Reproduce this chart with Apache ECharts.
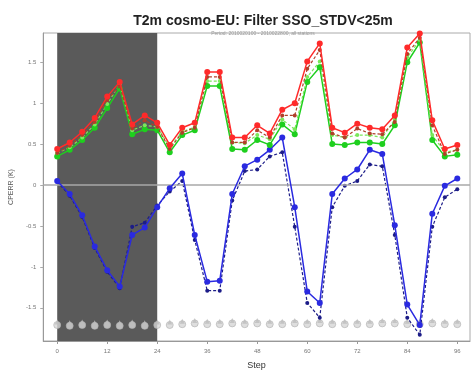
<!DOCTYPE html>
<html>
<head>
<meta charset="utf-8">
<script src="https://cdn.jsdelivr.net/npm/echarts@6/dist/echarts.min.js"></script>
<style>html,body{margin:0;padding:0;background:#fff}#c{width:471px;height:375px}</style>
</head>
<body>
<div id="c"></div>
<script>
var steps = [0,3,6,9,12,15,18,21,24,27,30,33,36,39,42,45,48,51,54,57,60,63,66,69,72,75,78,81,84,87,90,93,96];
var redVals = [0.44,0.52,0.65,0.82,1.08,1.26,0.74,0.85,0.76,0.49,0.70,0.76,1.38,1.38,0.58,0.58,0.73,0.63,0.92,1.00,1.51,1.73,0.70,0.64,0.75,0.70,0.68,0.85,1.68,1.85,0.79,0.44,0.49];
var brownVals = [0.39,0.48,0.61,0.77,1.04,1.21,0.69,0.79,0.71,0.44,0.64,0.70,1.32,1.32,0.52,0.52,0.67,0.58,0.85,0.85,1.42,1.65,0.63,0.58,0.69,0.63,0.62,0.77,1.60,1.80,0.73,0.38,0.43];
var lightGreenVals = [0.39,0.46,0.58,0.74,0.99,1.23,0.67,0.73,0.71,0.46,0.65,0.71,1.27,1.27,0.52,0.51,0.61,0.56,0.80,0.68,1.32,1.51,0.61,0.58,0.61,0.61,0.58,0.80,1.56,1.77,0.61,0.40,0.43];
var greenVals = [0.35,0.43,0.55,0.70,0.94,1.18,0.62,0.68,0.67,0.40,0.61,0.67,1.21,1.21,0.44,0.43,0.55,0.49,0.74,0.62,1.26,1.44,0.50,0.49,0.52,0.52,0.50,0.73,1.50,1.74,0.55,0.35,0.37];
var blueVals = [0.05,-0.11,-0.37,-0.75,-1.04,-1.24,-0.61,-0.52,-0.27,-0.04,0.14,-0.61,-1.18,-1.17,-0.11,0.23,0.31,0.43,0.58,-0.27,-1.30,-1.44,-0.11,0.08,0.19,0.43,0.38,-0.49,-1.46,-1.71,-0.35,-0.01,0.08];
var navyVals = [0.04,-0.13,-0.39,-0.77,-1.06,-1.26,-0.51,-0.46,-0.25,-0.08,0.05,-0.67,-1.29,-1.29,-0.19,0.17,0.19,0.35,0.40,-0.51,-1.44,-1.62,-0.27,-0.01,0.05,0.25,0.23,-0.61,-1.62,-1.83,-0.51,-0.15,-0.05];
var grayVals = [-1.71,-1.72,-1.71,-1.72,-1.71,-1.72,-1.71,-1.72,-1.71,-1.71,-1.70,-1.69,-1.70,-1.70,-1.69,-1.70,-1.69,-1.70,-1.70,-1.69,-1.70,-1.69,-1.70,-1.70,-1.70,-1.70,-1.69,-1.69,-1.70,-1.70,-1.69,-1.70,-1.70];
var xTicks = [0,12,24,36,48,60,72,84,96];
var yTicks = [-1.5,-1,-0.5,0,0.5,1,1.5];
var shadeFrom = 0, shadeTo = 24;

function pairs(vals){ return steps.map(function(s,i){ return [s, vals[i]]; }); }

var chart = echarts.init(document.getElementById('c'), null, {renderer:'canvas'});
var font = 'Liberation Sans, Arial, sans-serif';
chart.setOption({
  animation: false,
  backgroundColor: '#fff',
  title: [
    {text: 'T2m cosmo-EU: Filter SSO_STDV<25m', left: 258, top: 9, textAlign: 'center',
     textStyle: {fontFamily: font, fontSize: 14, fontWeight: 'bold', color: '#222'}},
    {text: 'Period: 2010020100 - 2010022800, all stations', left: 258, top: 26, textAlign: 'center',
     textStyle: {fontFamily: font, fontSize: 5, fontWeight: 'normal', color: '#999'}}
  ],
  grid: {left: 42, right: 1, top: 33, bottom: 26, show: true, borderColor: '#aaa', borderWidth: 1},
  xAxis: {
    type: 'value', min: -3.35, max: 99.05,
    name: 'Step', nameLocation: 'middle', nameGap: 20,
    nameTextStyle: {fontFamily: font, fontSize: 9, color: '#333'},
    axisLine: {show: true, onZero: false, lineStyle: {color: '#999'}},
    axisTick: {show: true, customValues: xTicks, length: 3, lineStyle: {color: '#999'}},
    axisLabel: {customValues: xTicks, fontSize: 6, color: '#777', fontFamily: font, margin: 7},
    splitLine: {show: false}
  },
  yAxis: {
    type: 'value', min: -1.905, max: 1.857,
    name: 'CPERR (K)', nameLocation: 'middle', nameGap: 22, nameRotate: 90,
    nameTextStyle: {fontFamily: font, fontSize: 7, color: '#555'},
    axisLine: {show: true, onZero: false, lineStyle: {color: '#999'}},
    axisTick: {show: true, customValues: yTicks, length: 3, lineStyle: {color: '#aaa'}},
    axisLabel: {customValues: yTicks, fontSize: 6, color: '#777', fontFamily: font, margin: 7},
    splitLine: {show: false}
  },
  series: [
    {type: 'line', data: [], z: 1, silent: true,
     markArea: {silent: true, itemStyle: {color: '#5a5a5a', opacity: 1}, data: [[{xAxis: shadeFrom}, {xAxis: shadeTo}]]}},
    {type: 'line', data: [], z: 2, silent: true,
     markLine: {silent: true, symbol: 'none', label: {show: false}, lineStyle: {color: '#a8a8a8', width: 1.5, type: 'solid'}, data: [{yAxis: 0}]}},
    {type: 'scatter', data: pairs(grayVals), z: 3, symbol: 'circle', symbolSize: 7,
     itemStyle: {color: '#d6d6d6', borderColor: '#b0b0b0', borderWidth: 0.8}},
    {type: 'scatter', data: pairs(grayVals), z: 3, symbol: 'triangle', symbolSize: 5, symbolOffset: [0, -3],
     itemStyle: {color: '#bdbdbd'}},
    {type: 'line', data: pairs(navyVals), z: 4, symbol: 'circle', symbolSize: 4,
     lineStyle: {color: '#1c1c88', width: 1.2, type: [3, 2]}, itemStyle: {color: '#1c1c88'}},
    {type: 'line', data: pairs(blueVals), z: 5, symbol: 'circle', symbolSize: 6,
     lineStyle: {color: '#2a2ae0', width: 1.5}, itemStyle: {color: '#2a2ae0'}},
    {type: 'line', data: pairs(greenVals), z: 6, symbol: 'circle', symbolSize: 6,
     lineStyle: {color: '#1ecf1e', width: 1.5}, itemStyle: {color: '#1ecf1e'}},
    {type: 'line', data: pairs(lightGreenVals), z: 6, symbol: 'circle', symbolSize: 4,
     lineStyle: {color: '#7ae85a', width: 1.2, type: [3, 2]}, itemStyle: {color: '#7ae85a'}},
    {type: 'line', data: pairs(brownVals), z: 7, symbol: 'circle', symbolSize: 4,
     lineStyle: {color: '#b0402a', width: 1.2, type: [3, 2]}, itemStyle: {color: '#b0402a'}},
    {type: 'line', data: pairs(redVals), z: 8, symbol: 'circle', symbolSize: 6,
     lineStyle: {color: '#ff2a2a', width: 1.5}, itemStyle: {color: '#ff2a2a'}}
  ]
});
</script>
</body>
</html>
